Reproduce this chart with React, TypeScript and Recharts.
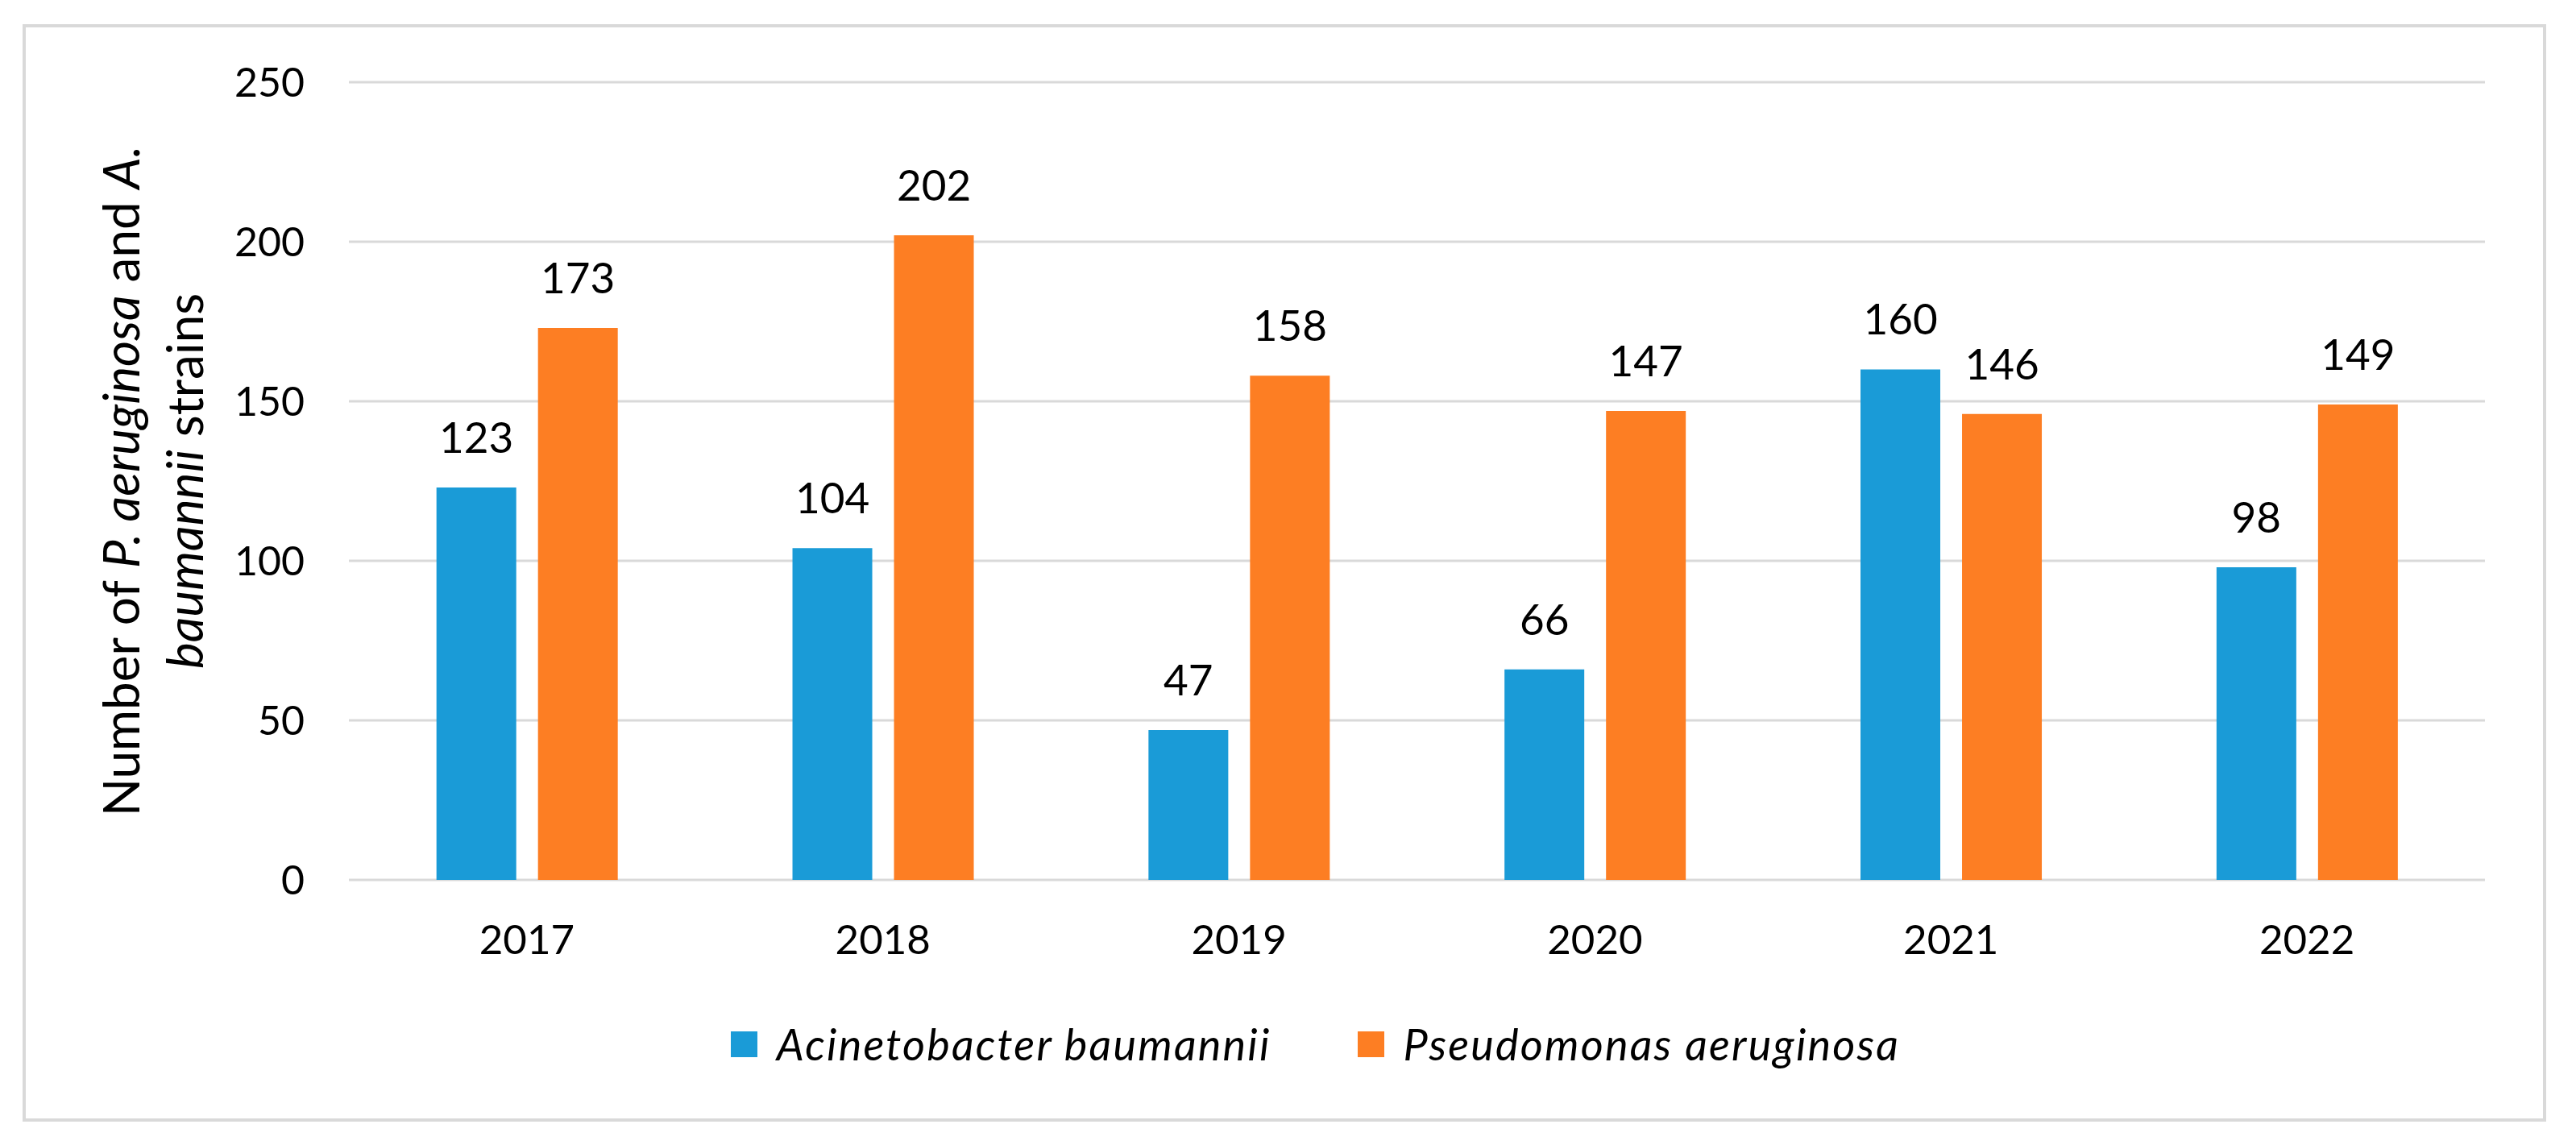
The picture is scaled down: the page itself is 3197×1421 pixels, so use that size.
import { BarChart, Bar, XAxis, YAxis, CartesianGrid, Legend, LabelList } from 'recharts'

const years = ['2017', '2018', '2019', '2020', '2021', '2022']
const acinetobacter = [123, 104, 47, 66, 160, 98]
const pseudomonas = [173, 202, 158, 147, 146, 149]
const yTicks = [0, 50, 100, 150, 200, 250]

const seriesNames = ['Acinetobacter baumannii', 'Pseudomonas aeruginosa']
const colors = ['#1a9bd7', '#fd7e23']

const data = years.map((year, i) => ({
  year,
  ab: acinetobacter[i],
  pa: pseudomonas[i],
}))

const FONT = 'Lato, "Open Sans", sans-serif'
const W = 3197
const H = 1421

// two-line rotated axis title with italic species names
function YTitle({ viewBox }: any) {
  const cy = viewBox.y + viewBox.height / 2
  const x1 = 173
  const x2 = 252
  return (
    <g fontFamily={FONT} fontSize={62} fill="#000">
      <text x={x1} y={cy} textAnchor="middle" transform={`rotate(-90 ${x1} ${cy})`}>
        Number of <tspan fontStyle="italic">P. aeruginosa</tspan> and <tspan fontStyle="italic">A.</tspan>
      </text>
      <text x={x2} y={cy} textAnchor="middle" transform={`rotate(-90 ${x2} ${cy})`}>
        <tspan fontStyle="italic">baumannii</tspan> strains
      </text>
    </g>
  )
}

function LegendContent({ payload }: any) {
  return (
    <div
      style={{
        display: 'flex',
        justifyContent: 'center',
        alignItems: 'center',
        gap: 107,
        fontFamily: FONT,
        fontSize: 54,
        fontStyle: 'italic',
        letterSpacing: 2.2,
        lineHeight: '60px',
        color: '#000',
      }}
    >
      {(payload || []).map((p: any) => (
        <div key={p.value} style={{ display: 'flex', alignItems: 'center' }}>
          <span style={{ display: 'inline-block', width: 33, height: 32, background: p.color, marginRight: 24 }} />
          <span>{p.value}</span>
        </div>
      ))}
    </div>
  )
}

export default function App() {
  return (
    <div style={{ position: 'absolute', left: 0, top: 0, width: W, height: H, background: '#fff' }}>
      <div
        style={{
          position: 'absolute',
          left: 28,
          top: 30,
          width: 3132,
          height: 1362,
          border: '4px solid #d9d9d9',
          boxSizing: 'border-box',
        }}
      />
      <BarChart
        width={W}
        height={H}
        data={data}
        margin={{ top: 102, right: 113, left: 0, bottom: 229 }}
        barCategoryGap="24.6%"
        barGap={27}
        style={{ fontFamily: FONT }}
      >
        <CartesianGrid vertical={false} stroke="#d9d9d9" strokeWidth={3} />
        <XAxis
          dataKey="year"
          height={100}
          axisLine={false}
          tickLine={false}
          tickSize={0}
          tickMargin={56}
          tick={{ fill: '#000', fontSize: 51, fontFamily: FONT }}
        />
        <YAxis
          width={433}
          domain={[0, 250]}
          ticks={yTicks}
          axisLine={false}
          tickLine={false}
          tickSize={0}
          tickMargin={55}
          tick={{ fill: '#000', fontSize: 50, fontFamily: FONT }}
          label={{ content: (props: any) => <YTitle viewBox={props.viewBox} /> }}
        />
        <Legend
          verticalAlign="middle"
          align="center"
          content={<LegendContent />}
          wrapperStyle={{ top: 1266, left: 34, width: W }}
        />
        <Bar dataKey="ab" name={seriesNames[0]} fill={colors[0]} isAnimationActive={false}>
          <LabelList dataKey="ab" position="top" offset={43} fill="#000" fontSize={53} fontFamily={FONT} />
        </Bar>
        <Bar dataKey="pa" name={seriesNames[1]} fill={colors[1]} isAnimationActive={false}>
          <LabelList dataKey="pa" position="top" offset={43} fill="#000" fontSize={53} fontFamily={FONT} />
        </Bar>
      </BarChart>
    </div>
  )
}
